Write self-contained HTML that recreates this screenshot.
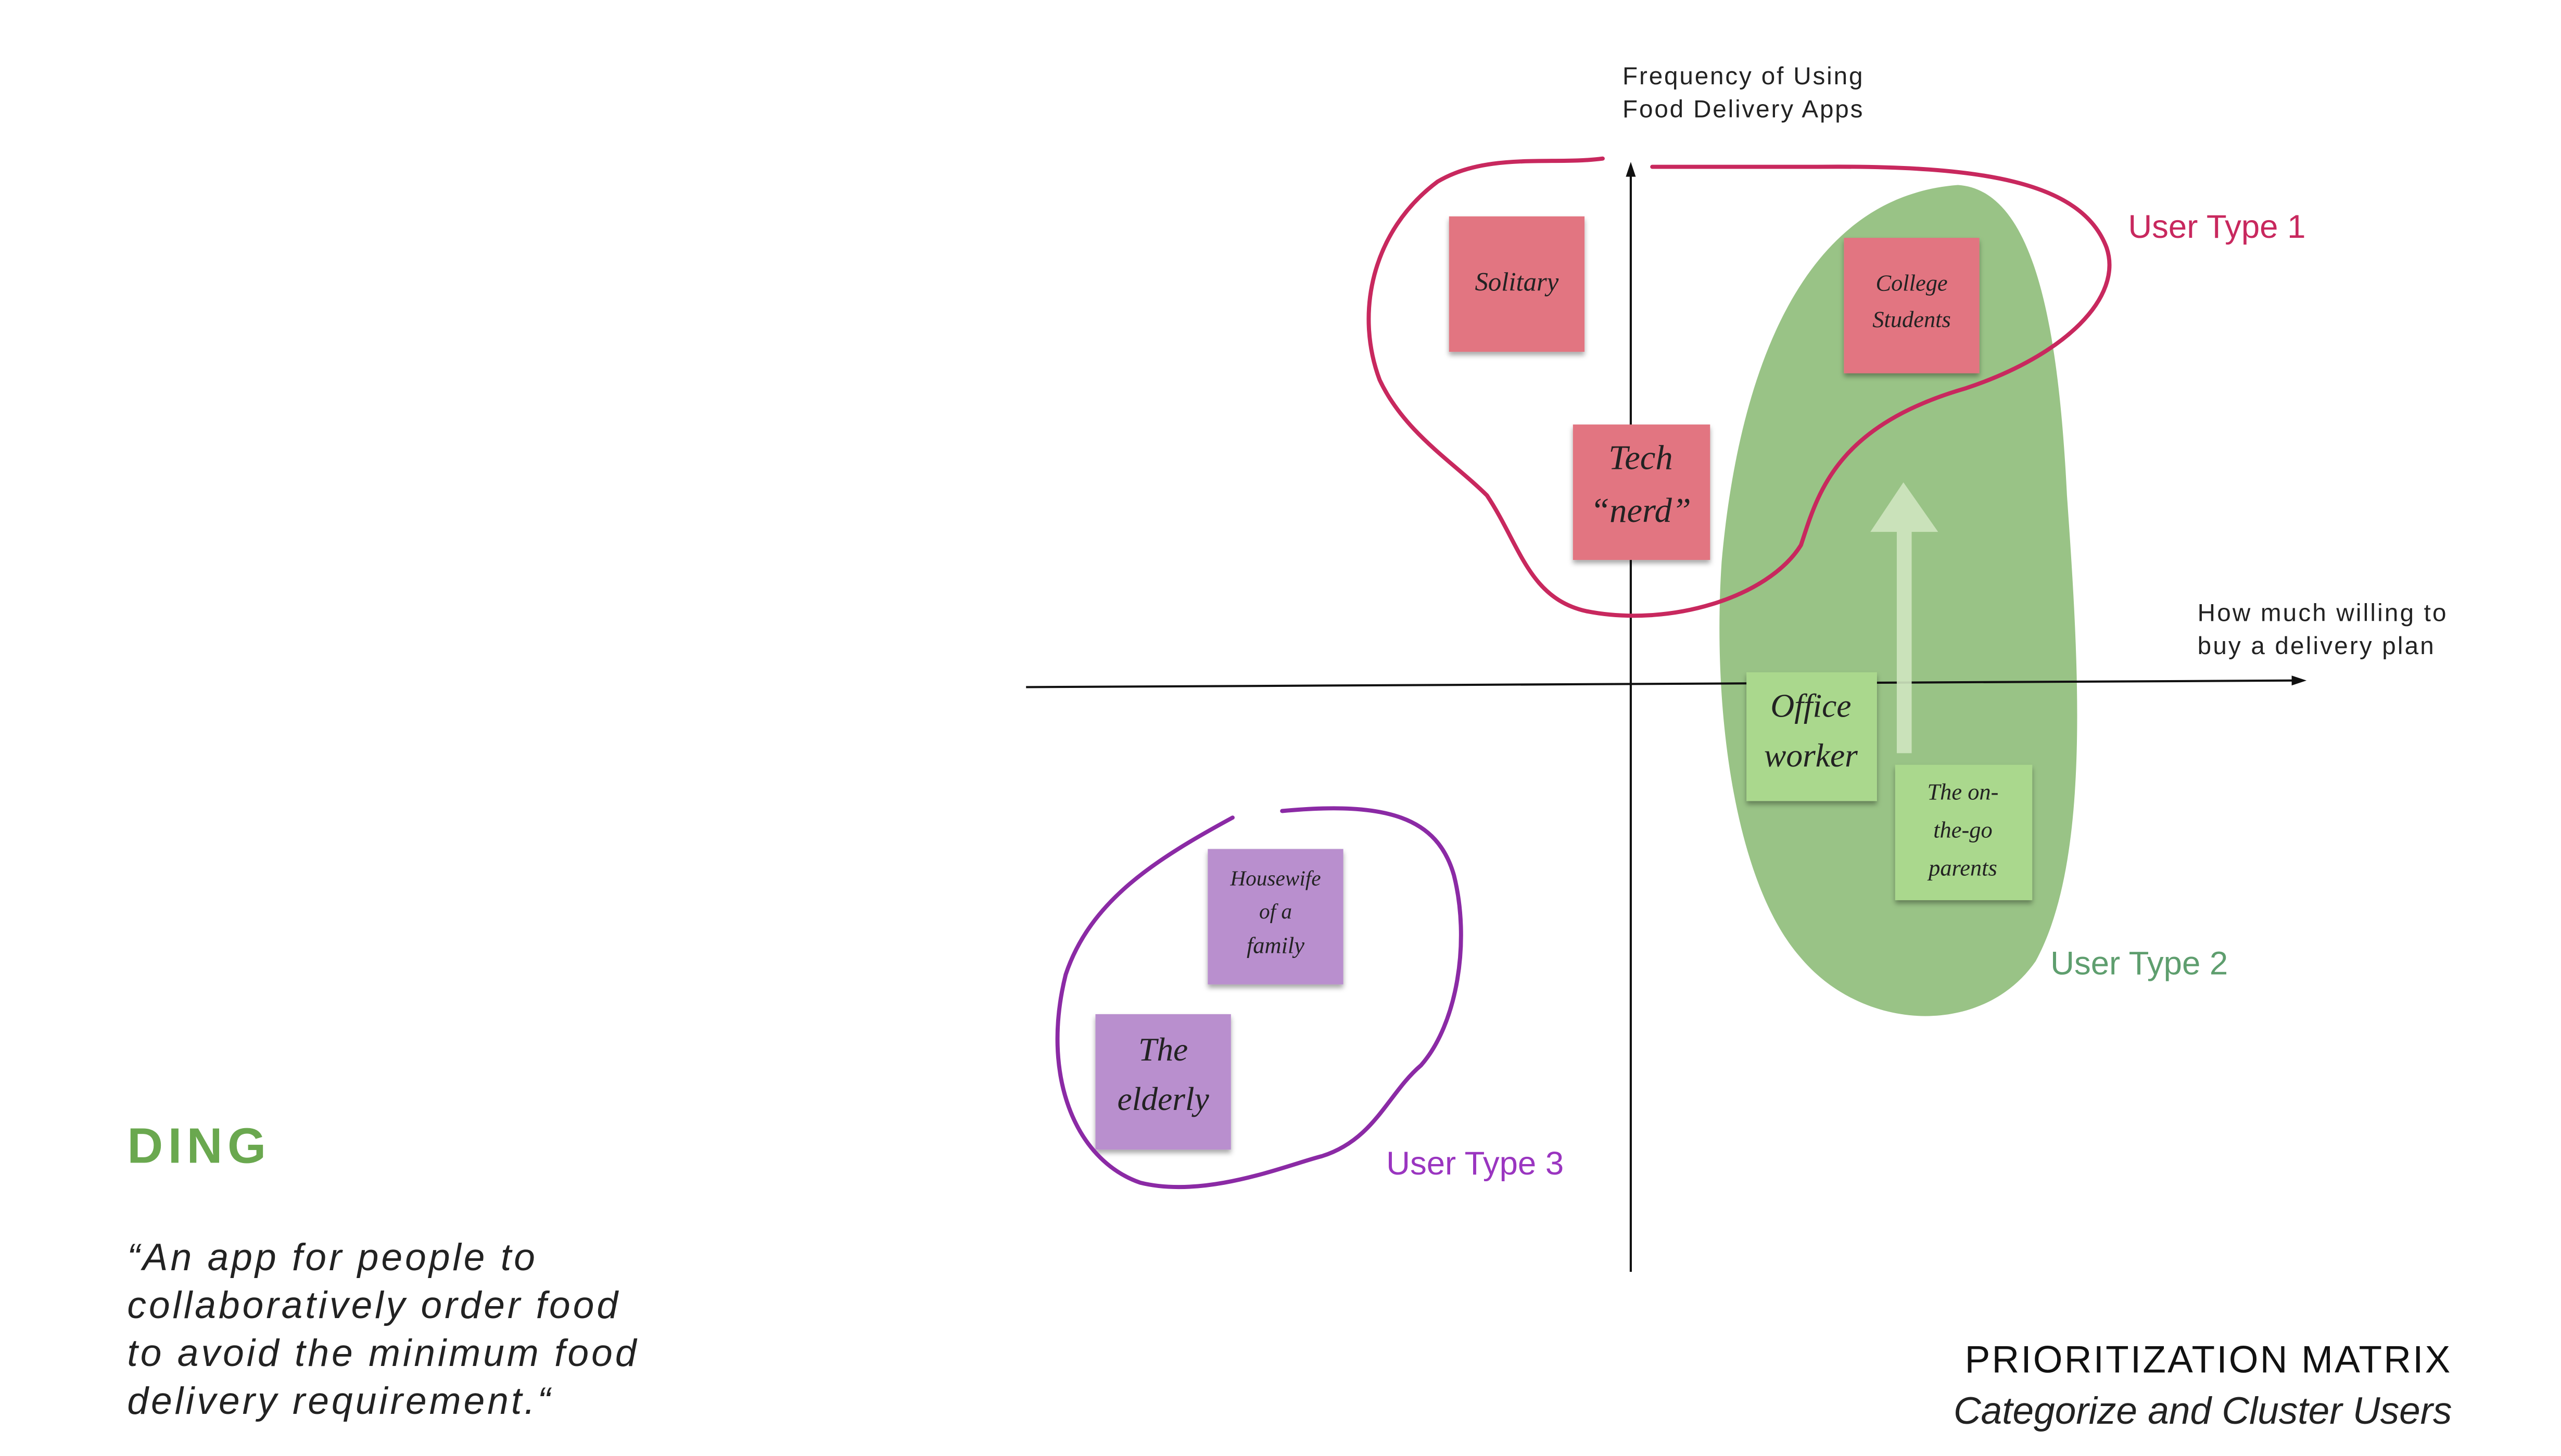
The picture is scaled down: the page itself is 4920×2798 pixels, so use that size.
<!DOCTYPE html>
<html><head><meta charset="utf-8"><style>
html,body{margin:0;padding:0;background:#fff;}
svg{display:block;}
text{font-family:"Liberation Sans",sans-serif;}
.note{font-family:"Liberation Serif",serif;font-style:italic;fill:#222;text-anchor:middle;}
</style></head><body>
<svg width="4920" height="2798" viewBox="0 0 1550 881.5" preserveAspectRatio="none">
<defs>
<filter id="sh" x="-10%" y="-10%" width="130%" height="130%"><feDropShadow dx="0" dy="2" stdDeviation="1.5" flood-opacity="0.35"/></filter>
</defs>
<path d="M1185,112 C1232,115 1246,200 1251,300 C1258,400 1266,520 1232,582 C1200,628 1128,625 1090,580 C1050,535 1036,430 1042,340 C1050,250 1080,120 1185,112 Z" fill="#99c386"/>
<g stroke="#111" stroke-width="1.3" fill="none">
<line x1="987" y1="104" x2="987" y2="770"/>
<line x1="621" y1="416" x2="1390" y2="412"/>
</g>
<polygon points="987,98 984,107 990,107" fill="#111"/>
<polygon points="1396,412 1387,409 1387,415" fill="#111"/>
<text x="982" y="51" font-size="15" fill="#222" letter-spacing="0.9">Frequency of Using</text>
<text x="982" y="71" font-size="15" fill="#222" letter-spacing="0.9">Food Delivery Apps</text>
<text x="1330" y="376" font-size="15" fill="#222" letter-spacing="1">How much willing to</text>
<text x="1330" y="396" font-size="15" fill="#222" letter-spacing="1">buy a delivery plan</text>
<path d="M1148,456 L1148,322 L1132,322 L1152,292 L1173,322 L1157,322 L1157,456 Z" fill="#cfe6c0" opacity="0.9"/>
<g filter="url(#sh)">
<rect x="877" y="131" width="82" height="82" fill="#e27581"/>
<rect x="952" y="257" width="83" height="82" fill="#e27581"/>
<rect x="1116" y="144" width="82" height="82" fill="#e27581"/>
<rect x="1057" y="407" width="79" height="78" fill="#aad88d"/>
<rect x="1147" y="463" width="83" height="82" fill="#aad88d"/>
<rect x="731" y="514" width="82" height="82" fill="#b98fce"/>
<rect x="663" y="614" width="82" height="82" fill="#b98fce"/>
</g>
<text class="note" x="918" y="176" font-size="16">Solitary</text>
<text class="note" x="993" y="284" font-size="21">Tech</text>
<text class="note" x="993" y="316" font-size="21">“nerd”</text>
<text class="note" x="1157" y="176" font-size="14">College</text>
<text class="note" x="1157" y="198" font-size="14">Students</text>
<text class="note" x="1096" y="434" font-size="20">Office</text>
<text class="note" x="1096" y="464" font-size="20">worker</text>
<text class="note" x="1188" y="484" font-size="14">The on-</text>
<text class="note" x="1188" y="507" font-size="14">the-go</text>
<text class="note" x="1188" y="530" font-size="14">parents</text>
<text class="note" x="772" y="536" font-size="13">Housewife</text>
<text class="note" x="772" y="556" font-size="13">of a</text>
<text class="note" x="772" y="577" font-size="14">family</text>
<text class="note" x="704" y="642" font-size="20">The</text>
<text class="note" x="704" y="672" font-size="20">elderly</text>
<path d="M970,96 C940,100 900,92 870,110 C830,140 820,190 835,230 C850,262 880,280 900,300 C920,330 925,362 960,370 C1010,380 1070,362 1090,330 C1100,300 1110,258 1190,235 C1250,215 1285,180 1275,150 C1260,110 1200,100 1100,101 L1000,101" fill="none" stroke="#c8285e" stroke-width="2.5" stroke-linecap="round"/>
<path d="M746,495 C700,520 660,545 645,590 C630,650 650,702 690,716 C730,726 780,705 800,700 C832,690 840,662 860,645 C882,620 890,570 880,530 C870,495 840,485 776,491" fill="none" stroke="#8b2aa5" stroke-width="2.5" stroke-linecap="round"/>
<text x="1288" y="144" font-size="20" fill="#c8285e">User Type 1</text>
<text x="1241" y="590" font-size="20" fill="#5e9e6e">User Type 2</text>
<text x="839" y="711" font-size="20" fill="#9a35c0">User Type 3</text>
<text x="77" y="704" font-size="30" font-weight="bold" fill="#6aa84f" letter-spacing="3">DING</text>
<g font-size="23" font-style="italic" fill="#222" letter-spacing="1.6">
<text x="77" y="769">“An app for people to</text>
<text x="77" y="798">collaboratively order food</text>
<text x="77" y="827">to avoid the minimum food</text>
<text x="77" y="856">delivery requirement.“</text>
</g>
<text x="1484" y="831" font-size="23" fill="#111" text-anchor="end" letter-spacing="1">PRIORITIZATION MATRIX</text>
<text x="1484" y="862" font-size="23" font-style="italic" fill="#222" text-anchor="end">Categorize and Cluster Users</text>
</svg>
</body></html>
